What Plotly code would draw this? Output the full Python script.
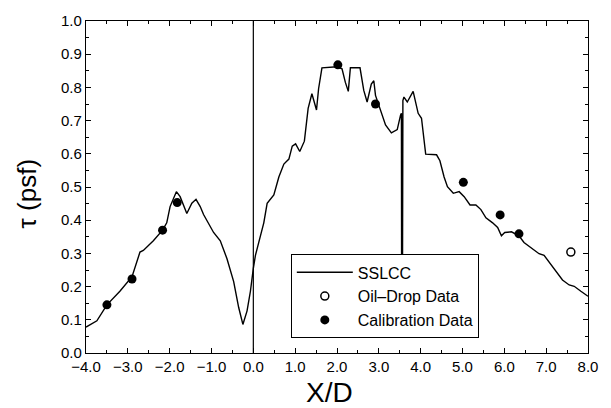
import plotly.graph_objects as go

# SSLCC shear-stress trace
sslcc_x = [-4.0, -3.74, -3.5, -3.19, -2.9, -2.79, -2.71, -2.63, -2.39, -2.17, -2.07, -1.99, -1.84,
           -1.75, -1.59, -1.47, -1.37, -1.27, -1.19, -0.95, -0.79, -0.63, -0.47, -0.35, -0.25,
           -0.15, -0.07, 0.0, 0.05, 0.13, 0.25, 0.33, 0.49, 0.61, 0.73, 0.85, 0.93, 1.01, 1.11,
           1.22, 1.31, 1.40, 1.51, 1.56, 1.64, 2.0, 2.12, 2.20, 2.27, 2.32, 2.55, 2.64, 2.72,
           2.82, 2.88, 2.92, 3.04, 3.16, 3.30, 3.44, 3.52, 3.54, 3.545, 3.565, 3.575, 3.60,
           3.68, 3.82, 3.94, 4.02, 4.12, 4.24, 4.38, 4.46, 4.56, 4.64, 4.78, 4.92, 5.04, 5.18,
           5.32, 5.44, 5.56, 5.72, 5.84, 5.93, 6.01, 6.17, 6.35, 6.47, 6.67, 6.83, 6.95, 7.07,
           7.23, 7.39, 7.55, 7.67, 7.83, 8.0]
sslcc_y = [0.078, 0.097, 0.145, 0.186, 0.23, 0.274, 0.304, 0.309, 0.338, 0.37, 0.392, 0.441, 0.486,
           0.471, 0.42, 0.451, 0.463, 0.441, 0.417, 0.363, 0.338, 0.284, 0.215, 0.137, 0.086,
           0.127, 0.186, 0.255, 0.294, 0.333, 0.392, 0.451, 0.476, 0.53, 0.569, 0.584, 0.623,
           0.63, 0.607, 0.638, 0.737, 0.781, 0.732, 0.796, 0.859, 0.862, 0.856, 0.815, 0.788,
           0.859, 0.859, 0.791, 0.756, 0.81, 0.82, 0.776, 0.732, 0.687, 0.663, 0.673, 0.717,
           0.722, 0.2, 0.2, 0.76, 0.771, 0.756, 0.788, 0.722, 0.707, 0.599, 0.599, 0.597,
           0.579, 0.53, 0.501, 0.481, 0.486, 0.471, 0.446, 0.446, 0.432, 0.407, 0.392, 0.378,
           0.353, 0.363, 0.365, 0.353, 0.333, 0.314, 0.299, 0.294, 0.274, 0.245, 0.22, 0.205,
           0.201, 0.186, 0.171]

# Calibration data (filled circles)
cal_x = [-3.5, -2.9, -2.17, -1.82, 2.02, 2.92, 5.02, 5.9, 6.35]
cal_y = [0.145, 0.223, 0.37, 0.453, 0.868, 0.75, 0.514, 0.416, 0.359]

# Oil-drop data (open circle)
oil_x = [7.59]
oil_y = [0.304]

x_ticks = [-4, -3, -2, -1, 0, 1, 2, 3, 4, 5, 6, 7, 8]
x_tick_text = ["\u22124.0", "\u22123.0", "\u22122.0", "\u22121.0", "0.0", "1.0", "2.0", "3.0",
               "4.0", "5.0", "6.0", "7.0", "8.0"]
y_ticks = [0.0, 0.1, 0.2, 0.3, 0.4, 0.5, 0.6, 0.7, 0.8, 0.9, 1.0]
y_tick_text = ["0.0", "0.1", "0.2", "0.3", "0.4", "0.5", "0.6", "0.7", "0.8", "0.9", "1.0"]

FONT = "Liberation Sans, Arial, Helvetica, sans-serif"

fig = go.Figure()
fig.add_trace(go.Scatter(x=sslcc_x, y=sslcc_y, mode="lines", name="SSLCC",
                         line=dict(color="black", width=1.4)))
fig.add_trace(go.Scatter(x=oil_x, y=oil_y, mode="markers", name="Oil\u2013Drop Data",
                         marker=dict(symbol="circle-open", size=8, color="black",
                                     line=dict(width=1.5, color="black"))))
fig.add_trace(go.Scatter(x=cal_x, y=cal_y, mode="markers", name="Calibration Data",
                         marker=dict(symbol="circle", size=9, color="black")))

fig.add_shape(type="line", xref="x", yref="y", x0=0, x1=0, y0=0, y1=1,
              line=dict(color="black", width=1.2))

axis_common = dict(showgrid=False, zeroline=False, showline=True, linecolor="black",
                   linewidth=1.3, mirror="ticks", ticks="inside", ticklen=5,
                   tickcolor="black", tickwidth=1,
                   tickfont=dict(family=FONT, size=15, color="black"))

fig.update_xaxes(range=[-4, 8], tickvals=x_ticks, ticktext=x_tick_text,
                 minor=dict(ticks="inside", dtick=0.5, ticklen=3, tickcolor="black"),
                 **axis_common)
fig.update_yaxes(range=[0, 1], tickvals=y_ticks, ticktext=y_tick_text,
                 minor=dict(ticks="inside", dtick=0.05, ticklen=3, tickcolor="black"),
                 **axis_common)

fig.add_annotation(text="X/D", xref="paper", yref="paper", x=0.486, y=-0.118,
                   showarrow=False, font=dict(family=FONT, size=28, color="black"),
                   xanchor="center", yanchor="middle")
fig.add_annotation(text="\u03c4 (psf)", xref="paper", yref="paper", x=-0.118, y=0.48,
                   showarrow=False, textangle=-90,
                   font=dict(family=FONT, size=26, color="black"),
                   xanchor="center", yanchor="middle")

fig.update_layout(
    width=611, height=408,
    margin=dict(l=86, r=23, t=14, b=55),
    plot_bgcolor="white", paper_bgcolor="white",
    showlegend=True,
    legend=dict(x=0.408, y=0.297, xanchor="left", yanchor="top",
                bgcolor="white", bordercolor="black", borderwidth=1,
                font=dict(family=FONT, size=16, color="black"),
                itemwidth=56, tracegroupgap=0),
)

fig.write_html("out.html")
